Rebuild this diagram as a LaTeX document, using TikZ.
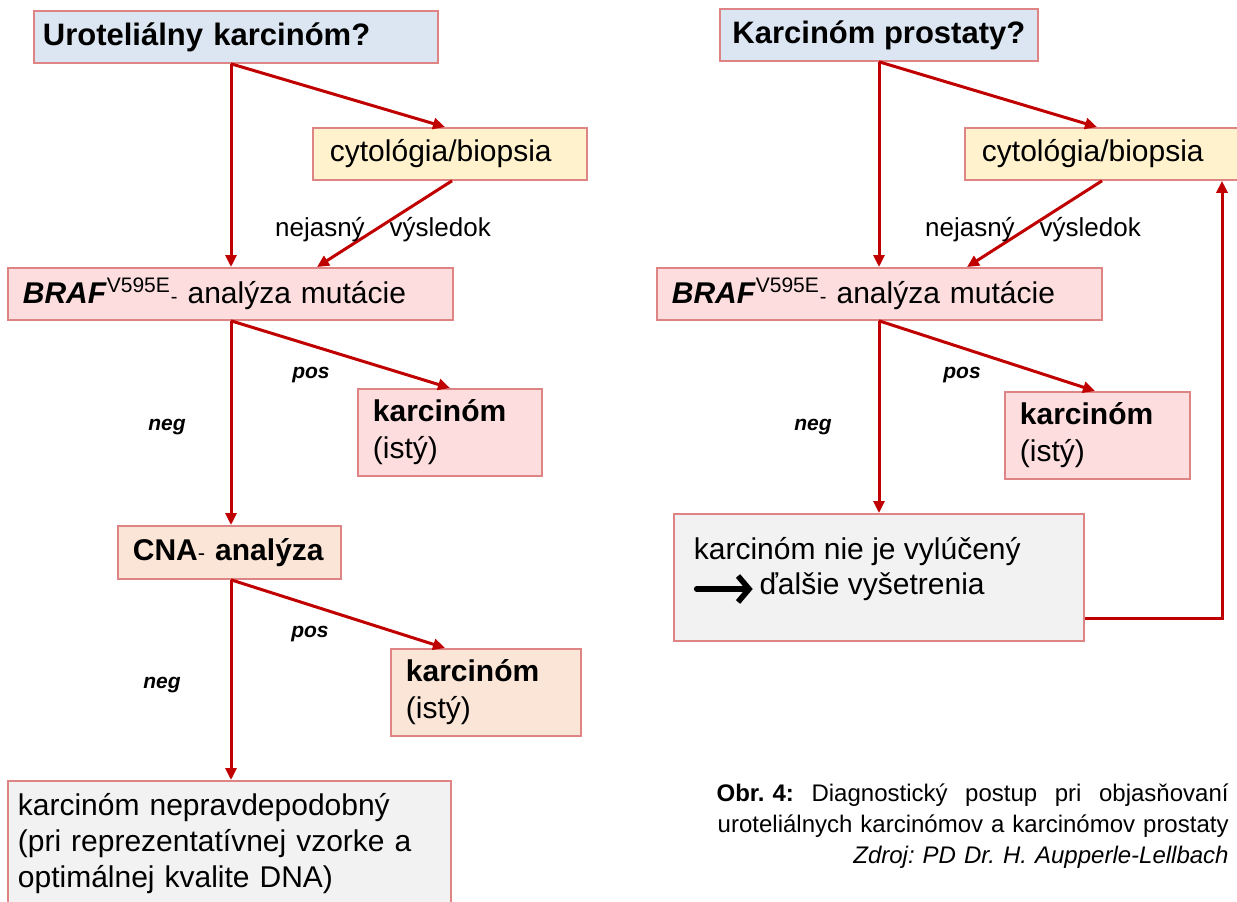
\documentclass[tikz,border=0pt]{standalone}
\usepackage{fontspec}
\setmainfont{Liberation Sans}
\usetikzlibrary{arrows.meta}
\definecolor{flowred}{RGB}{192,0,0}
\definecolor{boxline}{RGB}{222,132,132}
\definecolor{qblue}{RGB}{220,230,242}
\definecolor{testyellow}{RGB}{255,242,204}
\definecolor{resultpink}{RGB}{253,221,221}
\definecolor{cnapeach}{RGB}{251,229,214}
\definecolor{notegray}{RGB}{242,242,242}
\tikzset{
  box/.style={draw=boxline, line width=0.9pt, anchor=north west, align=left,
    inner xsep=7.5pt, inner ysep=0pt, font=\fontsize{15}{18.5}\selectfont},
  question/.style={box, fill=qblue, font=\fontsize{15.5}{18.5}\selectfont\bfseries},
  test/.style={box, fill=testyellow, inner xsep=8.5pt},
  result/.style={box, fill=resultpink},
  cna/.style={box, fill=cnapeach},
  note/.style={box, fill=notegray},
  flow/.style={draw=flowred, line width=1.5pt, -{Triangle[length=6pt, width=5.5pt]}},
  flowlabel/.style={font=\fontsize{13}{15}\selectfont},
  branch/.style={font=\fontsize{10.5}{12}\selectfont\bfseries\itshape},
  caption/.style={anchor=north east, align=right, text width=256pt, inner sep=0pt,
    font=\fontsize{12}{15.5}\selectfont},
}
\frenchspacing
\newcommand{\brafmut}{\textbf{\textit{BRAF}}\textsuperscript{V595E}{\fontsize{10}{12}\selectfont -} analýza mutácie}
\newcommand{\bigarrow}{\tikz[baseline=-2.5pt]\draw[line width=2.8pt, line cap=round,
  -{Straight Barb[length=5.5pt, width=13pt]}] (0pt,0pt) -- (28pt,0pt);}

\begin{document}
\begin{tikzpicture}[x=0.5pt, y=-0.5pt]
  \useasboundingbox (0,0) rectangle (1237,901);
  \coordinate (lstem) at (231,0);
  \coordinate (rstem) at (879,0);
  \coordinate (rrail) at (1222,0);

  % urothelial carcinoma
  \node[question, inner xsep=4.5pt, text width=193pt, minimum height=26pt] (a1) at (33,10) {Uroteliálny karcinóm?};
  \node[test, text width=120pt, minimum height=26pt] (a2) at (312,127) {cytológia/biopsia};
  \node[result, text width=207.5pt, minimum height=26pt] (a3) at (7,267) {\brafmut};
  \node[result, text width=77pt, minimum height=43.5pt] (a4) at (357,388) {\textbf{karcinóm}\\(istý)};
  \node[cna, text width=96.5pt, minimum height=26.5pt] (a5) at (117,525) {\textbf{CNA}{\fontsize{11}{12}\selectfont -} \textbf{analýza}};
  \node[cna, text width=80pt, minimum height=43.5pt] (a6) at (390,648) {\textbf{karcinóm}\\(istý)};
  \node[note, inner xsep=5pt, text width=211.5pt, minimum height=63pt, font=\fontsize{15}{18}\selectfont] (a7) at (7,780)
    {karcinóm nepravdepodobný\\(pri reprezentatívnej vzorke a\\optimálnej kvalite DNA)};

  \draw[flow] (a1.south -| lstem) -- (a3.north -| lstem);
  \draw[flow] (a1.south -| lstem) -- ([xshift=66.5pt]a2.north west);
  \draw[flow] ([xshift=70pt]a2.south west) -- ([xshift=155pt]a3.north west);
  \draw[flow] (a3.south -| lstem) -- (a5.north -| lstem);
  \draw[flow] (a3.south -| lstem) -- ([xshift=46.5pt]a4.north west);
  \draw[flow] (a5.south -| lstem) -- (a7.north -| lstem);
  \draw[flow] (a5.south -| lstem) -- ([xshift=27.5pt]a6.north west);

  \node[flowlabel] (a-unclear) at (383,230) {nejasný\hspace{12.5pt}výsledok};
  \node[branch] (a-pos1) at (311,375) {pos};
  \node[branch] (a-neg1) at (167,427) {neg};
  \node[branch] (a-pos2) at (310,634) {pos};
  \node[branch] (a-neg2) at (162,685) {neg};

  % prostate carcinoma
  \node[question, inner xsep=6pt, minimum width=159pt, minimum height=26pt] (b1) at (719,8) {Karcinóm prostaty?};
  \node[test, text width=120pt, minimum height=26pt] (b2) at (964,127) {cytológia/biopsia};
  \node[result, text width=207.5pt, minimum height=26pt] (b3) at (656,267) {\brafmut};
  \node[result, text width=77.5pt, minimum height=43.5pt] (b4) at (1004,391) {\textbf{karcinóm}\\(istý)};
  \node[note, inner xsep=10pt, inner ysep=0pt, font=\fontsize{15}{17.5}\selectfont] (b5) at (673,513)
    {\parbox[c][63.5pt][t]{185pt}{\vspace*{11.5pt}karcinóm nie je vylúčený\\ \bigarrow\hspace{2pt}ďalšie vyšetrenia}};

  \draw[flow] (b1.south -| rstem) -- (b3.north -| rstem);
  \draw[flow] (b1.south -| rstem) -- ([xshift=66.5pt]b2.north west);
  \draw[flow] ([xshift=69pt]b2.south west) -- ([xshift=155.5pt]b3.north west);
  \draw[flow] (b3.south -| rstem) -- (b5.north -| rstem);
  \draw[flow] (b3.south -| rstem) -- ([xshift=45.5pt]b4.north west);
  \draw[flow] ([yshift=11.5pt]b5.south east) -| (b2.south -| rrail);

  \node[flowlabel] (b-unclear) at (1033,230) {nejasný\hspace{12.5pt}výsledok};
  \node[branch] (b-pos) at (962,375) {pos};
  \node[branch] (b-neg) at (813,427) {neg};

  \node[caption] (cap) at (1229,783)
    {\hbox to 256pt{\textbf{Obr. 4:}\hfill Diagnostický\hfill postup\hfill pri\hfill objasňovaní}\\
     uroteliálnych karcinómov a karcinómov prostaty\\
     \textit{Zdroj: PD Dr. H. Aupperle-Lellbach}};
\end{tikzpicture}
\end{document}
